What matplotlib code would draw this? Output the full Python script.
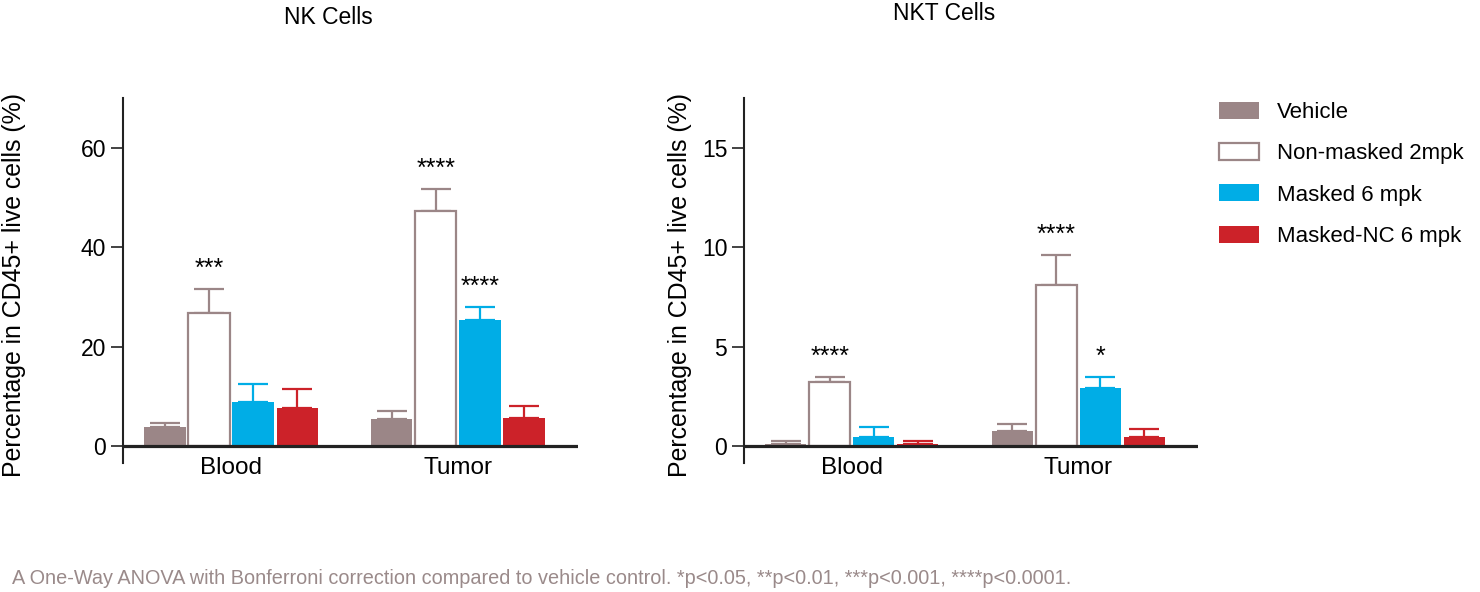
import numpy as np
import matplotlib
matplotlib.use("Agg")
from matplotlib import pyplot as plt
from matplotlib.patches import Patch

plt.rcParams['font.family'] = ['Liberation Sans', 'DejaVu Sans']

groups = ['Blood', 'Tumor']
series = ['Vehicle', 'Non-masked 2mpk', 'Masked 6 mpk', 'Masked-NC 6 mpk']

# NK cells, mean and upper error (Blood, Tumor)
nk_vehicle = [3.9, 5.5]
nk_nonmasked = [26.8, 47.3]
nk_masked = [8.8, 25.4]
nk_nc = [7.6, 5.6]
nk_vehicle_err = [0.8, 1.6]
nk_nonmasked_err = [4.8, 4.3]
nk_masked_err = [3.7, 2.5]
nk_nc_err = [3.8, 2.4]
nk_stars = [['', ''], ['***', '****'], ['', '****'], ['', '']]

# NKT cells
nkt_vehicle = [0.08, 0.74]
nkt_nonmasked = [3.2, 8.07]
nkt_masked = [0.44, 2.92]
nkt_nc = [0.12, 0.44]
nkt_vehicle_err = [0.17, 0.35]
nkt_nonmasked_err = [0.27, 1.51]
nkt_masked_err = [0.53, 0.55]
nkt_nc_err = [0.13, 0.42]
nkt_stars = [['', ''], ['****', '****'], ['', '*'], ['', '']]

mauve = '#9b8687'
cyan = '#00ade6'
red = '#cc2229'
fills = [mauve, 'white', cyan, red]
edges = [mauve, mauve, cyan, red]

FS = 16.5


def draw(ax, means, errs, stars, ymax, ymin, yticks):
    x = np.arange(len(groups))
    slot = 0.194
    width = 0.181
    for i in range(4):
        xs = x + (i - 1.5) * slot
        m = np.array(means[i])
        e = np.array(errs[i])
        ax.errorbar(xs, m, yerr=[np.zeros_like(e), e], fmt='none',
                    ecolor=edges[i], elinewidth=1.6, capsize=11, capthick=1.6,
                    zorder=2)
        lw = 1.6 if i == 1 else 0
        ax.bar(xs, m, width, color=fills[i], edgecolor=edges[i],
               linewidth=lw, zorder=3)
        for j in range(len(groups)):
            s = stars[i][j]
            if s:
                ax.annotate(s, (xs[j], m[j] + e[j]), xytext=(0, 6),
                            textcoords='offset points', ha='center',
                            va='bottom', fontsize=18)
    ax.axhline(0, color='#222222', lw=2.3, zorder=4)
    ax.set_xlim(-0.476, 1.529)
    ax.set_ylim(ymin, ymax)
    ax.set_yticks(yticks)
    ax.set_xticks(x)
    ax.set_xticklabels(groups, fontsize=FS + 1)
    ax.tick_params(axis='x', length=0, pad=-4)
    ax.tick_params(axis='y', length=9, width=1.2, labelsize=FS, pad=3,
                   color='#222222')
    for s in ['top', 'right', 'bottom']:
        ax.spines[s].set_visible(False)
    ax.spines['left'].set_linewidth(1.5)
    ax.spines['left'].set_color('#222222')


fig = plt.figure(figsize=(14.8, 5.92), dpi=100)
ax1 = fig.add_axes([123 / 1480, 1 - 463 / 592, 455 / 1480, 365 / 592])
ax2 = fig.add_axes([744 / 1480, 1 - 463 / 592, 454 / 1480, 365 / 592])

draw(ax1, [nk_vehicle, nk_nonmasked, nk_masked, nk_nc],
     [nk_vehicle_err, nk_nonmasked_err, nk_masked_err, nk_nc_err],
     nk_stars, 70.0, -3.42, [0, 20, 40, 60])
draw(ax2, [nkt_vehicle, nkt_nonmasked, nkt_masked, nkt_nc],
     [nkt_vehicle_err, nkt_nonmasked_err, nkt_masked_err, nkt_nc_err],
     nkt_stars, 17.5, -0.86, [0, 5, 10, 15])

fig.text(328 / 1480, 1 - 18 / 592, 'NK Cells', ha='center', va='center',
         fontsize=FS)
fig.text(944 / 1480, 1 - 13 / 592, 'NKT Cells', ha='center', va='center',
         fontsize=FS)
ylab = 'Percentage in CD45+ live cells (%)'
fig.text(14 / 1480, 1 - 285 / 592, ylab, rotation=90, ha='center',
         va='center', fontsize=17.9)
fig.text(680 / 1480, 1 - 285 / 592, ylab, rotation=90, ha='center',
         va='center', fontsize=17.9)

handles = [Patch(facecolor=fills[i], edgecolor=edges[i],
                 linewidth=1.6 if i == 1 else 0) for i in range(4)]
fig.legend(handles, series, loc='upper left',
           bbox_to_anchor=(1219 / 1480, 1 - 102 / 592), frameon=False,
           fontsize=16, handlelength=1.8, handleheight=0.8,
           handletextpad=0.8, labelspacing=0.9, borderpad=0,
           borderaxespad=0)

note = ('A One-Way ANOVA with Bonferroni correction compared to vehicle '
        'control. *p<0.05, **p<0.01, ***p<0.001, ****p<0.0001.')
fig.text(12 / 1480, 1 - 578 / 592, note, ha='left', va='center',
         fontsize=14.3, color='#9a8a8a')

fig.savefig('out.png', dpi=100)
